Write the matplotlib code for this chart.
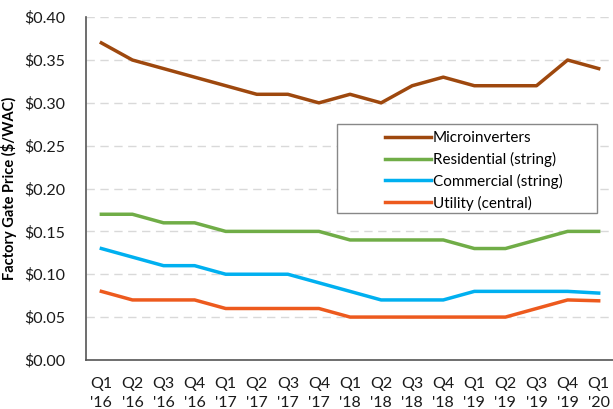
import matplotlib.pyplot as plt
import numpy as np
from matplotlib.patches import Rectangle

plt.rcParams['font.family'] = ['Lato', 'DejaVu Sans']

quarters = ["Q1\n'16", "Q2\n'16", "Q3\n'16", "Q4\n'16",
            "Q1\n'17", "Q2\n'17", "Q3\n'17", "Q4\n'17",
            "Q1\n'18", "Q2\n'18", "Q3\n'18", "Q4\n'18",
            "Q1\n'19", "Q2\n'19", "Q3\n'19", "Q4\n'19",
            "Q1\n'20"]

micro = [0.37, 0.35, 0.34, 0.33, 0.32, 0.31, 0.31, 0.30, 0.31, 0.30,
         0.32, 0.33, 0.32, 0.32, 0.32, 0.35, 0.34]
residential = [0.17, 0.17, 0.16, 0.16, 0.15, 0.15, 0.15, 0.15, 0.14, 0.14,
               0.14, 0.14, 0.13, 0.13, 0.14, 0.15, 0.15]
commercial = [0.13, 0.12, 0.11, 0.11, 0.10, 0.10, 0.10, 0.09, 0.08, 0.07,
              0.07, 0.07, 0.08, 0.08, 0.08, 0.08, 0.078]
utility = [0.08, 0.07, 0.07, 0.07, 0.06, 0.06, 0.06, 0.06, 0.05, 0.05,
           0.05, 0.05, 0.05, 0.05, 0.06, 0.07, 0.069]

fig = plt.figure(figsize=(6.13, 4.09), dpi=100)
ax = fig.add_axes([0.140, 0.120, 0.862, 0.838])

x = np.arange(len(quarters))
ax.plot(x, micro, color='#9E480E', lw=2.5, label='Microinverters')
ax.plot(x, residential, color='#70AD47', lw=2.5, label='Residential (string)')
ax.plot(x, commercial, color='#00B0F0', lw=2.5, label='Commercial (string)')
ax.plot(x, utility, color='#ED5A1E', lw=2.5, label='Utility (central)')

ax.set_xlim(-0.5, len(quarters) - 0.5)
ax.set_ylim(0, 0.40)
ax.set_yticks(np.arange(0, 0.401, 0.05))
ax.set_yticklabels([f'${v:.2f}' for v in np.arange(0, 0.401, 0.05)])
ax.set_xticks(x)
ax.set_xticklabels(quarters, linespacing=1.45)
ax.tick_params(axis='both', length=0, labelsize=11.5, colors='#1a1a1a')
ax.tick_params(axis='x', pad=12)
ax.tick_params(axis='y', pad=15)

ax.yaxis.grid(True, color='#d9d9d9', linestyle=(0, (6, 4)), lw=1)
ax.set_axisbelow(True)
for s in ['top', 'right']:
    ax.spines[s].set_visible(False)
ax.spines['left'].set_color('#555555')
ax.spines['bottom'].set_color('#555555')
ax.spines['left'].set_linewidth(1.2)
ax.spines['bottom'].set_linewidth(1.2)

ax.set_ylabel('Factory Gate Price ($/WAC)', fontsize=10.5, fontweight='bold', labelpad=5)

# legend box (Excel style, wider than its content)
ax.add_patch(Rectangle((0.475, 0.429), 0.492, 0.259, transform=ax.transAxes,
                       facecolor='white', edgecolor='#888888', lw=1, zorder=4))
leg = ax.legend(loc='upper left', bbox_to_anchor=(0.566, 0.668), fontsize=11,
                frameon=False, handlelength=3.0, handletextpad=0.15,
                borderpad=0, labelspacing=0.45, borderaxespad=0)
leg.set_zorder(5)

fig.savefig('out.png', dpi=100)
